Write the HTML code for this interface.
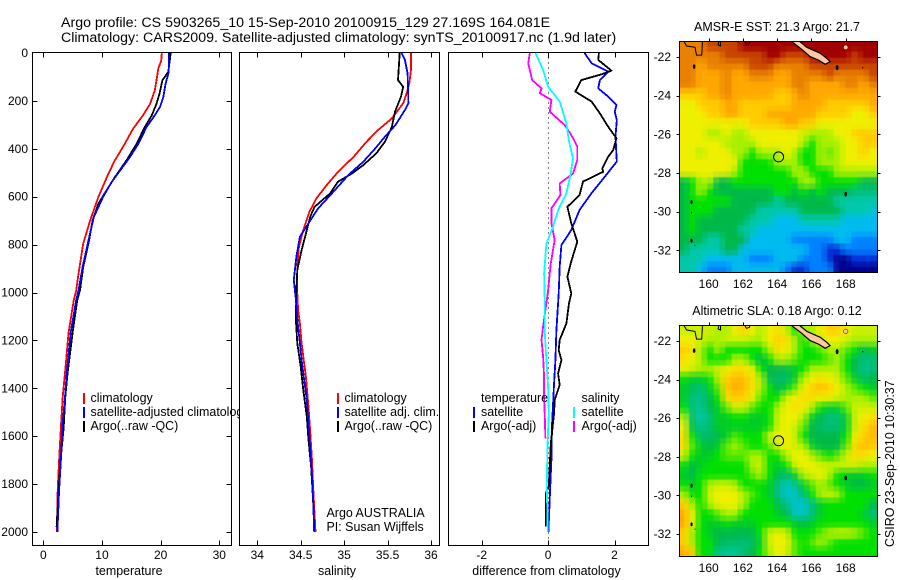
<!DOCTYPE html>
<html>
<head>
<meta charset="utf-8">
<title>Argo profile</title>
<style>
html,body{margin:0;padding:0;background:#fff;}
svg{display:block;}
text{font-family:"Liberation Sans",sans-serif;font-size:12.45px;fill:#000;}
text.ticklab{font-size:12px;}
.title{font-size:14.2px;}
.frame{fill:#fff;stroke:#000;stroke-width:1;shape-rendering:crispEdges;}
.noframe{fill:none;stroke:#000;stroke-width:1;shape-rendering:crispEdges;}
.tick{stroke:#000;stroke-width:1;shape-rendering:crispEdges;}
.series{fill:none;stroke-width:1.8;stroke-linejoin:round;shape-rendering:crispEdges;}
</style>
</head>
<body>
<svg id="figure" xmlns="http://www.w3.org/2000/svg" width="900" height="580" viewBox="0 0 900 580">
<rect width="900" height="580" fill="#fff"/>
<text class="title" x="61" y="27">Argo profile: CS 5903265_10 15-Sep-2010 20100915_129 27.169S 164.081E</text>
<text class="title" x="61" y="42">Climatology: CARS2009. Satellite-adjusted climatology: synTS_20100917.nc (1.9d later)</text>
<g id="panels"></g>
<g id="maps"></g>
<text transform="translate(894,547) rotate(-90)">CSIRO 23-Sep-2010 10:30:37</text>
</svg>
<script>
/* ---------- depth-axis ticks ---------- */
var depthTicks = [0,200,400,600,800,1000,1200,1400,1600,1800,2000];
var tempTicks = [0,10,20,30];
var salTicks = [34,34.5,35,35.5,36];
var diffTicks = [-2,0,2];
var lonTicks = [160,162,164,166,168];
var sstLatTicks = [-22,-24,-26,-28,-30,-32];
var slaLatTicks = [-22,-24,-26,-28,-30,-32];

/* ---------- temperature profiles ---------- */
var tempClimDepth = [0,32,65,114,156,212,260,316,379,448,504,601,699,796,922,991,1031,1169,1336,1436,1562,1699,1825,2000];
var tempClimValue = [20.2,20.1,19.6,19.3,19.0,18.2,17.0,15.3,13.9,12.2,11.1,9.4,8.0,6.8,6.0,5.6,5.2,4.3,3.7,3.3,3.0,2.7,2.45,2.3];
var tempArgoDepth = [0,24,79,114,170,212,260,309,379,448,518,573,629,699,782,894,991,1031,1169,1336,1436,1562,1699,1825,1980];
var tempArgoValue = [21.7,21.6,21.3,20.3,19.8,19.3,18.5,17.3,15.9,14.2,12.2,10.8,9.4,8.4,7.8,6.8,6.25,5.8,5.0,4.15,3.75,3.47,2.95,2.6,2.27];
var tempSatDepth = [0,79,128,184,225,260,309,379,434,490,539,601,685,782,894,991,1031,1169,1336,1436,1562,1699,1825,2000];
var tempSatValue = [21.4,21.4,20.85,20.45,19.9,19.0,17.6,16.2,14.8,13.1,11.65,10.2,8.6,7.7,6.7,6.0,5.6,4.66,4.0,3.7,3.25,3.0,2.7,2.4];

/* ---------- salinity profiles ---------- */
var salClimDepth = [0,71,127,168,210,273,322,370,433,496,551,607,663,739,808,892,1004,1073,1129,1212,1268,1352,1477,1588,1700,1825,2000];
var salClimValue = [35.77,35.77,35.75,35.72,35.68,35.55,35.39,35.26,35.11,34.93,34.80,34.68,34.60,34.53,34.48,34.46,34.46,34.47,34.49,34.51,34.53,34.56,34.59,34.61,34.63,34.645,34.67];
var salArgoDepth = [0,113,141,182,245,308,370,419,468,503,537,586,642,683,767,823,906,990,1115,1212,1310,1407,1518,1616,1727,1853,1978];
var salArgoValue = [35.64,35.62,35.68,35.655,35.585,35.55,35.47,35.37,35.22,35.09,34.93,34.84,34.66,34.61,34.55,34.51,34.46,34.45,34.445,34.46,34.50,34.53,34.57,34.59,34.62,34.64,34.655];
var salSatDepth = [0,29,85,210,238,301,349,398,454,509,586,649,711,767,850,948,1031,1129,1212,1282,1366,1449,1546,1658,1769,1880,2000];
var salSatValue = [35.66,35.70,35.73,35.74,35.70,35.59,35.47,35.36,35.22,35.05,34.86,34.70,34.59,34.49,34.45,34.42,34.445,34.465,34.49,34.51,34.54,34.57,34.59,34.61,34.63,34.645,34.655];

/* ---------- differences from climatology ---------- */
var diffTempSatDepth = [0,43,78,113,148,182,217,245,280,349,432,453,516,585,655,739,802,892,1004,1045,1157,1282,1379,1546,1700,1825,2000];
var diffTempSatValue = [1.10,1.31,1.81,1.56,1.51,1.81,2.06,2.01,2.07,2.03,2.06,2.07,1.71,1.31,0.95,0.70,0.40,0.35,0.32,0.30,0.25,0.22,0.18,0.12,0.10,0.06,0.01];
var diffTempArgoDepth = [0,29,74,89,113,161,203,252,308,356,405,433,482,496,537,593,642,711,788,878,934,1004,1045,1129,1198,1240,1282,1338,1386,1449,1505,1630,1810,1839,1978];
var diffTempArgoValue = [1.53,1.51,1.91,1.61,1.00,0.82,1.31,1.56,1.81,2.06,1.96,1.81,1.63,1.66,1.05,0.95,0.58,0.70,0.88,0.68,0.58,0.70,0.63,0.55,0.35,0.32,0.40,0.30,0.35,0.20,0.18,0.08,0.02,-0.07,-0.07];
var diffSalArgoDepth = [0,43,113,148,168,196,245,301,342,391,447,503,545,593,649,711,781,878,990,1045,1143,1198,1268,1352,1435,1518,1609];
var diffSalArgoValue = [-0.55,-0.60,-0.48,-0.20,-0.25,0.10,0.05,0.50,0.70,0.88,0.88,0.75,0.35,0.37,0.10,0.10,0.20,0.08,0.00,-0.05,-0.15,-0.20,-0.15,-0.12,-0.12,-0.10,-0.08];
var diffSalSatDepth = [0,71,141,203,294,363,440,503,586,656,725,795,920,1045,1170,1282,1393,1505,1644,1810,2000];
var diffSalSatValue = [-0.38,-0.15,0,0.35,0.55,0.62,0.75,0.68,0.55,0.30,0.15,-0.05,-0.12,-0.10,-0.10,-0.05,0,0.02,-0.02,-0.04,-0.01];

/* ---------- map grids (colour level per half-degree cell, north to south) ---------- */
var sstLevels = [
[11,11,11,12,12,12,12,13,13,13,13,13,13,13,13,13,13,13,13,13,13,13,13],
[11,11,11,11,11,12,12,12,12,12,13,13,12,12,12,13,13,13,13,13,12,13,13],
[11,11,10,11,11,11,11,11,12,12,12,11,11,11,11,12,12,12,12,12,12,12,12],
[11,11,10,10,10,11,10,10,11,11,11,10,10,11,11,11,11,12,11,11,11,11,12],
[11,11,10,10,10,11,10,10,10,10,10,10,10,11,11,10,10,10,10,11,11,10,11],
[9,9,9,10,10,11,10,10,10,10,10,9,9,10,11,10,10,10,10,10,10,10,10],
[8,8,9,9,9,10,10,9,9,9,9,9,9,10,10,10,10,9,9,9,9,9,10],
[8,8,8,9,9,10,10,9,9,9,10,10,10,10,10,10,9,9,9,9,8,8,9],
[8,8,8,8,8,8,8,8,9,9,9,9,10,10,9,9,8,8,8,8,8,8,8],
[8,8,8,7,7,8,7,7,8,8,8,8,8,8,7.5,7,7,7,8,8,9,9,9],
[8,8,8,8,8,7,7,7,7,8,8,8,8,8,7,6,7,7,7,8,8,9,9],
[8,8,7,8,8,8,7,7,6,7,7,7,8,7,6,6,7,6.5,7,8,8,9,8],
[8,8,8,8,8,8,8,6,6,6,6,7,7,7,6,6,7,7,7,8,8,8,8],
[8,8,8,8,8,8,7,6,6,6,6,6,6,7,7,6,6,6,7,7,7,7,7],
[5,6,7,7,5,5,6,6,6,6,6,6,6,6,7,7,6,6,6,6,6,5,5],
[5,6,7,6,5,5,5,5,5,5,5,6,6,5,6,5,6,5,5,5,4.5,4.5,4.5],
[5,6,6,6,6,6,5,5,5,5,5,4,5,5,5,5,5,5,4,4,4,4,4],
[5,6,6,6,5,5,5,5,5,4,4,4,4,4,5,5,5,5,5,4,4,4,3.5],
[5,6,5,5,5,5,5,5,4,4,4,3,3,3,4,4,4,4,4,3,3,3,3],
[5,6,5,5,5,5,5,4,4,3,3,3,3,3,3,3,3,3,3,3,3,3,3],
[5,5,5,4,4,5,5,5,3,3,3,3,3,2,2,2,2,2,3,3,2,2,2],
[5,4,4,4,4,5,5,3,3,3,3,3,3,3,3,2,2,1,1,2,2,2,2],
[4,4,4,3,3,3,3,3,2,2,2,3,3,3,2,2,2,1,0,0,1,1,1],
[4,4,3,2,2,2,3,3,3,3,3,3,2,1,1,2,2,2,0,0,0,0,0]
];
var slaLevels = [
[7.5,7.5,7.5,7.5,7,7,8,9,8,7,8,8.5,7.5,6,7,7,8,9,9,8,7.5,7.5,7.5],
[8,8,7.5,7,7,7.5,7.5,7.5,7,7,8,9,8.5,7,6,7,7.5,8,8,7.5,7,7,7],
[9,8.5,7,6,7,6,6,6,6,6,7,8.5,8,7,6,6,6.5,7,7,6.5,6,5,5.5],
[8.5,8,7,6,6,6,7,7,6,5,6,7,7,6.5,6,6,6,6.5,7,6,5,4.5,4.5],
[8,7.5,7,7,7.5,8,8.5,8.5,8,6,5,5,5,5.5,6,7,7,7,7,6,5,4.3,4.5],
[6,5.5,5.5,6,7,9,9.5,9.5,8.5,7,5,4.7,4.7,5.5,7,8,8.5,8,7.5,6.5,5.5,4.7,5],
[5.5,4.8,4.5,5.5,6.5,9,10,9.5,8.5,7,6,5,5.5,6.5,8,9,9.5,9,8,7,6.5,6,5.5],
[5.5,4.5,4.3,5,6,8.5,9,9,8,6.5,6,6,7.5,8,8.5,8.5,8,8,7.5,7,7,7,6.5],
[6,4.5,4.2,5,5.5,6.5,7.5,7.5,6.5,6,6,7,8,8.5,8,7,6,5.5,5.5,6.5,7.5,7.5,7.5],
[7,4.7,4,4.5,5.5,5.5,6,6,5.5,5.5,6,7.5,8,8,7,5.5,5,4.5,4.5,5.5,7.5,8,8.5],
[8,5,4.3,4.7,5.5,5.5,5.5,5.5,5.5,5.5,6,7.5,8,7.5,6.5,5,4.7,4.5,4.7,5.5,7.5,8.5,9.5],
[8.5,6,4.7,4.7,5,5.5,6.5,6,6,6,7.5,8,8,7.5,6,5,5,5,5,6,8,9,9.5],
[8.5,6.5,5.5,5,5.5,6.5,7,6.5,6,6,6.5,7.5,8,7.5,7,5.5,5,5,5,6.5,8.5,9.5,9],
[7.5,6,5.5,5.5,6,6.5,6.5,6.5,7,7,6,6,7,8,8,7,6.5,6,6.5,7.5,8.5,8.5,8],
[6,5,5.5,6,6,6,6,6,7,7.5,6,5.5,6,7.5,8,8,7.5,7.5,7.5,7.5,7.5,7,7],
[5.5,5,6,6,6,6,6,6,6.5,7,6,5,4.7,5.5,7,7.5,8,7,6,5.5,5.5,5.5,6],
[6,5.5,6,7,7.5,7.5,7,6,6,6,5.5,4.5,3.7,4.3,5.5,6.5,7,6.5,6,5.5,5,5,5.5],
[7,6,6,7.5,8,8,8,7,6.5,6,5.5,4.5,3.5,3.7,4.7,6,7,7.5,7,6,6,6,6],
[9,7,6,7,8,8,8,7,6,6,6,5,4.5,3.5,3.5,4.5,5.5,6,6,6,6,6,5],
[10,8,6,6,6.5,7,7,6,6,6,6,5.5,5,3.7,3.7,4.5,5.5,6,6,6,6,5.5,4.5],
[10,8,6,5.5,5.5,6,5.5,5.5,5.5,6,6,6,6,5.5,5,5.5,6,6,6,6,6,6,5.5],
[9,7,6,5.5,5,5,5,5,5,6,7.5,8,7.5,6,6,6,6.5,7,7.5,7.5,7,6.5,6],
[9,7,6,6,5,4.7,4.7,4.5,4.7,5.5,7.5,8,8,6.5,6,6.5,7,6.5,6,6,6,6,6],
[10,9,6,6,4.5,4.2,4.2,4.5,5,6,7,8,7.5,6.5,6,6,6,6,6,6,6,6,6]
];

/* ---------- geographic features ---------- */
var caledoniaLon = [164.83,165.30,165.73,166.51,166.90,167.09,166.80,166.41,165.92,165.43];
var caledoniaLat = [-21.19,-21.19,-21.50,-21.81,-22.07,-22.24,-22.38,-22.16,-21.98,-21.60];
var chesterfieldLon = [158.55,158.71,159.20,159.29,159.59,159.64];
var chesterfieldLat = [-21.19,-21.43,-21.50,-21.90,-21.90,-21.19];
var reefLon = [160.59,160.55,160.69,160.69];
var reefLat = [-21.19,-21.38,-21.43,-21.19];
var reef2Lon = [162.10,162.20,162.39,162.39];
var reef2Lat = [-21.19,-21.34,-21.29,-21.19];
var islandLon = [159.15,159.00,159.00,159.00,159.20,167.50,169.00,168.00];
var islandLat = [-22.50,-29.50,-30.05,-31.50,-31.75,-22.55,-22.55,-29.10];
var islandSize = [1.6,1.4,0.6,1.4,0.5,1.8,0.6,1.6];
var pinesLon = [168.0];
var pinesLat = [-21.50];
var argoLon = [164.081];
var argoLat = [-27.169];

var NS = 'http://www.w3.org/2000/svg';
var palette = ['#000090','#0030d8','#0080ff','#00bbf0','#00c8a8','#00b848','#00e000','#a8f000','#eef000','#ffcc00','#ffa800','#e88000','#c84400','#a00000'];

function hexToRgb(h){return [parseInt(h.substr(1,2),16),parseInt(h.substr(3,2),16),parseInt(h.substr(5,2),16)];}
function levelColor(v){
  var i=Math.max(0,Math.min(palette.length-1,Math.floor(v)));
  var j=Math.min(palette.length-1,i+1);
  var f=Math.max(0,Math.min(1,v-i));
  var a=hexToRgb(palette[i]),b=hexToRgb(palette[j]);
  return 'rgb('+Math.round(a[0]+(b[0]-a[0])*f)+','+Math.round(a[1]+(b[1]-a[1])*f)+','+Math.round(a[2]+(b[2]-a[2])*f)+')';
}
function make(tag,attrs,parent){
  var e=document.createElementNS(NS,tag);
  for(var k in attrs){e.setAttribute(k,attrs[k]);}
  parent.appendChild(e);
  return e;
}
function linear(d0,d1,p0,p1){return function(v){return p0+(v-d0)*(p1-p0)/(d1-d0);};}

/* ---------- profile panels ---------- */
var depthY = linear(0,2000,53,532);
var panelTop = 52.5, panelBottom = 545.5;
var panelsRoot = document.getElementById('panels');

function drawPanel(cfg){
  var g = make('g',{},panelsRoot);
  
  
  var frame = make('rect',{'class':'frame',x:cfg.left,y:panelTop,width:cfg.right-cfg.left,height:panelBottom-panelTop},g);
  
  
  var xs = linear(cfg.d0,cfg.d1,cfg.p0,cfg.p1);
  cfg.xTicks.forEach(function(t){
    var x=Math.round(xs(t))+0.5;
    var top=make('line',{'class':'tick',x1:x,x2:x,y1:panelTop,y2:panelTop+5},g);
    
    
    var bot=make('line',{'class':'tick',x1:x,x2:x,y1:panelBottom,y2:panelBottom-5},g);
    
    
    var lab=make('text',{'class':'ticklab',x:xs(t),y:559,'text-anchor':'middle'},g);
    lab.textContent=String(t);
    
    
  });
  var xl=make('text',{x:cfg.labelX,y:575,'text-anchor':'middle'},g);
  xl.textContent=cfg.label;
  
  
  if(cfg.zeroLine){
    var zx=Math.round(xs(0))+0.5;
    var z=make('line',{x1:zx,x2:zx,y1:panelTop,y2:panelBottom,stroke:'#000','stroke-width':1,'stroke-dasharray':'1 4','shape-rendering':'crispEdges'},g);
    
    
  }
  if(cfg.depthAxis){
    depthTicks.forEach(function(t){
      var y=Math.round(depthY(t))+0.5;
      if(t>0){
        var l=make('line',{'class':'tick',x1:cfg.left,x2:cfg.left+5,y1:y,y2:y},g);
        
        
        var r=make('line',{'class':'tick',x1:cfg.right,x2:cfg.right-5,y1:y,y2:y},g);
        
        
      }
      var lab=make('text',{'class':'ticklab',x:28,y:depthY(t)+4,'text-anchor':'end'},g);
      lab.textContent=String(t);
      
      
    });
  }
  cfg.series.forEach(function(s){
    var pts=s.values.map(function(v,i){return xs(v).toFixed(1)+','+depthY(s.depths[i]).toFixed(1);}).join(' ');
    var p=make('polyline',{'class':'series',points:pts,stroke:s.color},g);
    
    
  });
  cfg.legend.forEach(function(item){
    if(item.color){
      var m=make('rect',{x:item.markX,y:item.y-9,width:2,height:11,fill:item.color},g);
      
      
    }
    var t=make('text',{x:item.textX,y:item.y},g);
    t.textContent=item.text;
    
    
  });
}

drawPanel({name:'temperature',left:32.5,right:231.5,d0:0,d1:30,p0:43.3,p1:219.3,xTicks:tempTicks,label:'temperature',labelX:129,depthAxis:true,
  series:[
    {name:'temperature-climatology-line',values:tempClimValue,depths:tempClimDepth,color:'#ff0000'},
    {name:'temperature-argo-line',values:tempArgoValue,depths:tempArgoDepth,color:'#000000'},
    {name:'temperature-satellite-line',values:tempSatValue,depths:tempSatDepth,color:'#0000ff'}
  ],
  legend:[
    {name:'temperature-legend-climatology',color:'#ff0000',markX:83,textX:90.5,y:402,text:'climatology'},
    {name:'temperature-legend-satellite',color:'#0000ff',markX:83,textX:90.5,y:416,text:'satellite-adjusted climatology'},
    {name:'temperature-legend-argo',color:'#000000',markX:83,textX:90.5,y:430,text:'Argo(..raw -QC)'}
  ]});
drawPanel({name:'salinity',left:239.5,right:439.5,d0:34,d1:36,p0:257.3,p1:431,xTicks:salTicks,label:'salinity',labelX:337,
  series:[
    {name:'salinity-climatology-line',values:salClimValue,depths:salClimDepth,color:'#ff0000'},
    {name:'salinity-argo-line',values:salArgoValue,depths:salArgoDepth,color:'#000000'},
    {name:'salinity-satellite-line',values:salSatValue,depths:salSatDepth,color:'#0000ff'}
  ],
  legend:[
    {name:'salinity-legend-climatology',color:'#ff0000',markX:337,textX:344.5,y:402,text:'climatology'},
    {name:'salinity-legend-satellite',color:'#0000ff',markX:337,textX:344.5,y:416,text:'satellite adj. clim.'},
    {name:'salinity-legend-argo',color:'#000000',markX:337,textX:344.5,y:430,text:'Argo(..raw -QC)'},
    {name:'argo-australia-note',textX:326.5,y:517,text:'Argo AUSTRALIA'},
    {name:'pi-note',textX:326.5,y:531,text:'PI: Susan Wijffels'}
  ]});
drawPanel({name:'difference',left:448.5,right:648.5,d0:-2,d1:2,p0:481.7,p1:614.5,xTicks:diffTicks,label:'difference from climatology',labelX:546.5,zeroLine:true,
  series:[
    {name:'difference-temperature-satellite-line',values:diffTempSatValue,depths:diffTempSatDepth,color:'#0000ff'},
    {name:'difference-temperature-argo-line',values:diffTempArgoValue,depths:diffTempArgoDepth,color:'#000000'},
    {name:'difference-salinity-argo-line',values:diffSalArgoValue,depths:diffSalArgoDepth,color:'#ff00ff'},
    {name:'difference-salinity-satellite-line',values:diffSalSatValue,depths:diffSalSatDepth,color:'#00ffff'}
  ],
  legend:[
    {name:'legend-temperature-header',textX:481,y:402,text:'temperature'},
    {name:'legend-temperature-satellite',color:'#0000ff',markX:473,textX:481,y:416,text:'satellite'},
    {name:'legend-temperature-argo',color:'#000000',markX:473,textX:481,y:430,text:'Argo(-adj)'},
    {name:'legend-salinity-header',textX:581.5,y:402,text:'salinity'},
    {name:'legend-salinity-satellite',color:'#00ffff',markX:573,textX:581.5,y:416,text:'satellite'},
    {name:'legend-salinity-argo',color:'#ff00ff',markX:573,textX:581.5,y:430,text:'Argo(-adj)'}
  ]});

/* ---------- map panels ---------- */
var mapsRoot = document.getElementById('maps');
function addSmoothingFilter(defs,id,x,y,w,h){
  var f=make('filter',{id:id,filterUnits:'userSpaceOnUse',primitiveUnits:'userSpaceOnUse',x:x,y:y,width:w,height:h,'color-interpolation-filters':'sRGB'},defs);
  make('feGaussianBlur',{'in':'SourceGraphic',stdDeviation:3.2,result:'smooth'},f);
  make('feFlood',{x:x,y:y,width:2,height:2,'flood-color':'#000'},f);
  make('feComposite',{x:x,y:y,width:6,height:6},f);
  make('feTile',{result:'dots'},f);
  make('feComposite',{'in':'smooth',in2:'dots',operator:'in'},f);
  make('feMorphology',{operator:'dilate',radius:2},f);
}
function drawMap(cfg){
  var g=make('g',{},mapsRoot);
  
  
  var left=679.5,right=877.5,top=cfg.top,bottom=cfg.bottom;
  var lonX=linear(160,168,708.7,845.7);
  var latY=linear(-22,-32,cfg.y22,cfg.y32);
  var lon0=158.28,lat0=-21.19,step=0.5,pad=12;
  var clipId=cfg.name+'-clip';
  var filterId=cfg.name+'-smooth';
  var defs=make('defs',{},g);
  var cp=make('clipPath',{id:clipId},defs);
  make('rect',{x:left,y:top,width:right-left,height:bottom-top},cp);
  addSmoothingFilter(defs,filterId,left-pad,top-pad,right-left+2*pad,bottom-top+2*pad);
  var clip=make('g',{'clip-path':'url(#'+clipId+')'},g);
  
  
  var field=make('g',{filter:'url(#'+filterId+')'},clip);
  
  
  var nRows=cfg.levels.length;
  cfg.levels.forEach(function(row,r){
    row.forEach(function(v,c){
      var x0=lonX(lon0+c*step),x1=lonX(lon0+(c+1)*step)+0.5;
      var y0=latY(lat0-r*step),y1=latY(lat0-(r+1)*step)+0.5;
      if(c===0){x0-=pad;}
      if(c===row.length-1){x1+=pad;}
      if(r===0){y0-=pad;}
      if(r===nRows-1){y1+=pad;}
      var cell=make('rect',{x:x0,y:y0,width:x1-x0,height:y1-y0,fill:levelColor(v)},field);
      
      
    });
  });
  function pts(lons,lats){return lons.map(function(l,i){return lonX(l).toFixed(1)+','+latY(lats[i]).toFixed(1);}).join(' ');}
  var land=make('polygon',{points:pts(caledoniaLon,caledoniaLat),fill:'#ffc8a0',stroke:'#000','stroke-width':1.2},clip);
  
  
  var ch=make('polyline',{points:pts(chesterfieldLon,chesterfieldLat),fill:'none',stroke:'#000','stroke-width':1},clip);
  
  
  var rf=make('polyline',{points:pts(reefLon,reefLat),fill:'none',stroke:'#000','stroke-width':1},clip);
  
  
  var rf2=make('polyline',{points:pts(reef2Lon,reef2Lat),fill:'none',stroke:'#000','stroke-width':1},clip);
  
  
  islandLon.forEach(function(l,i){
    var d=make('ellipse',{cx:lonX(l),cy:latY(islandLat[i]),rx:islandSize[i]*0.8,ry:islandSize[i]*1.4,fill:'#000'},clip);
    
    
  });
  pinesLon.forEach(function(l,i){
    var d=make('circle',{cx:lonX(l),cy:latY(pinesLat[i]),r:2.3,fill:'#ffc8a0',stroke:'#000','stroke-width':0.5},clip);
    
    
  });
  var frame=make('rect',{'class':'noframe',x:left,y:top,width:right-left,height:bottom-top},g);
  
  
  lonTicks.forEach(function(t){
    var x=Math.round(lonX(t))+0.5;
    var a=make('line',{'class':'tick',x1:x,x2:x,y1:top,y2:top-3},g);
    
    
    var lab=make('text',{'class':'ticklab',x:lonX(t),y:bottom+15.5,'text-anchor':'middle'},g);
    lab.textContent=String(t);
    
    
  });
  cfg.latTicks.forEach(function(t){
    var y=Math.round(latY(t))+0.5;
    var a=make('line',{'class':'tick',x1:left,x2:left-3,y1:y,y2:y},g);
    
    
    var b=make('line',{'class':'tick',x1:right,x2:right+3,y1:y,y2:y},g);
    
    
    var lab=make('text',{'class':'ticklab',x:671,y:latY(t)+4,'text-anchor':'end'},g);
    lab.textContent=String(t);
    
    
  });
  var mark=make('circle',{cx:lonX(argoLon[0]),cy:latY(argoLat[0]),r:5,fill:'none',stroke:'#000','stroke-width':1},g);
  
  
  var ti=make('text',{x:777,y:cfg.titleY,'text-anchor':'middle'},g);
  ti.textContent=cfg.title;
  
  
}
drawMap({name:'sst',top:41.5,bottom:272.5,y22:57,y32:250.3,levels:sstLevels,latTicks:sstLatTicks,title:'AMSR-E SST: 21.3 Argo: 21.7',titleY:31});
drawMap({name:'sla',top:325.5,bottom:556.5,y22:341,y32:534,levels:slaLevels,latTicks:slaLatTicks,title:'Altimetric SLA: 0.18 Argo: 0.12',titleY:315});
</script>
</body>
</html>
